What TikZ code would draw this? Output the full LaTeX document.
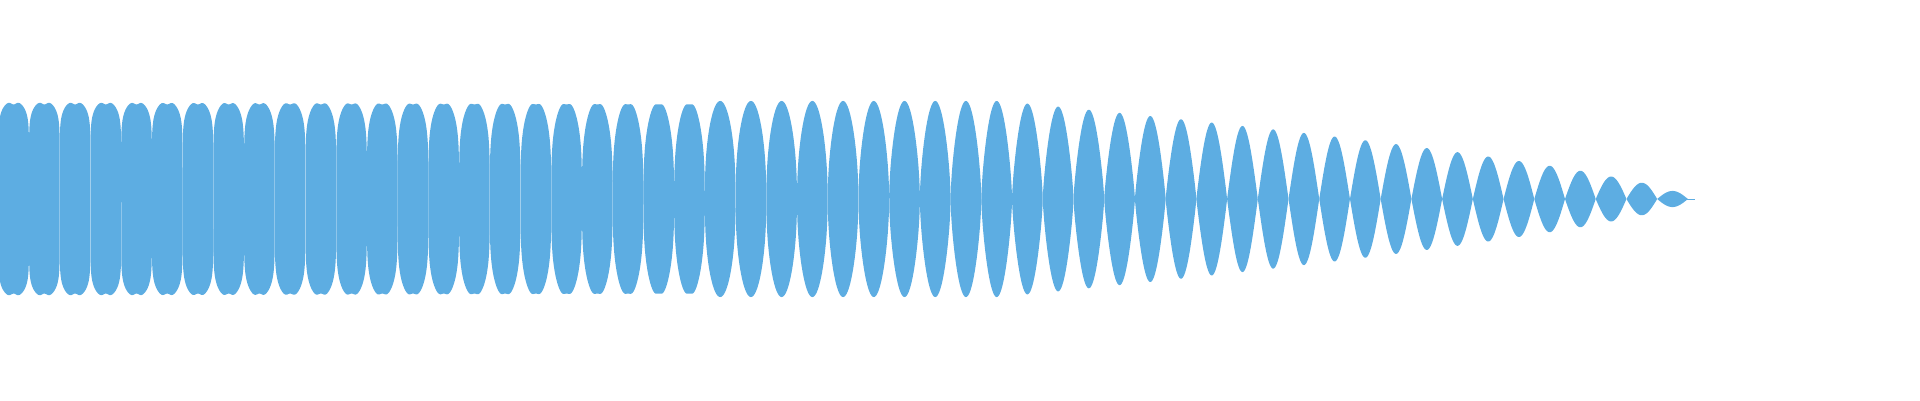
\documentclass[tikz,border=0pt]{standalone}
\definecolor{wave}{RGB}{93,173,226}
\begin{document}
\begin{tikzpicture}[x=1pt,y=-1pt,wavefill/.style={fill=wave}]
\useasboundingbox (0,0) rectangle (1920,400);
\begin{scope}
\clip (0,0) rectangle (1920,400);
\foreach \k in {-1,0,...,53}{
  \pgfmathsetmacro{\a}{29+30.72*\k}
  \pgfmathsetmacro{\c}{\a+15.36}
  \pgfmathsetmacro{\A}{\c<1000 ? 98 : 98*pow((1690-\c)/690,0.68)}
  \pgfmathsetmacro{\p}{0.1+0.9*pow(min(1,max(\c,20)/1250),2)}
  \pgfmathsetmacro{\d}{\c<700 ? 0.035 : 0}
  \fill[wavefill] plot[domain=0.002:0.998,samples=121]
     ({\a+30.72*\x},{199-\A*(pow(sin(180*\x),\p)-\d*exp(-((\x-0.5)/0.12)^2))})
     -- plot[domain=0.998:0.002,samples=121]
     ({\a+30.72*\x},{199+\A*(pow(sin(180*\x),\p)-\d*exp(-((\x-0.5)/0.12)^2))}) -- cycle;
}
\end{scope}
\fill[wavefill] (0,190) -- (2,180) -- (4,190) -- (6,160) -- (8,155) -- (9,190) -- (10,199) -- (9,208) -- (8,243) -- (6,238) -- (4,208) -- (2,218) -- (0,208) -- cycle;
\draw[wave,line width=1pt] (1686,199) -- (1695,199);
\end{tikzpicture}
\end{document}
